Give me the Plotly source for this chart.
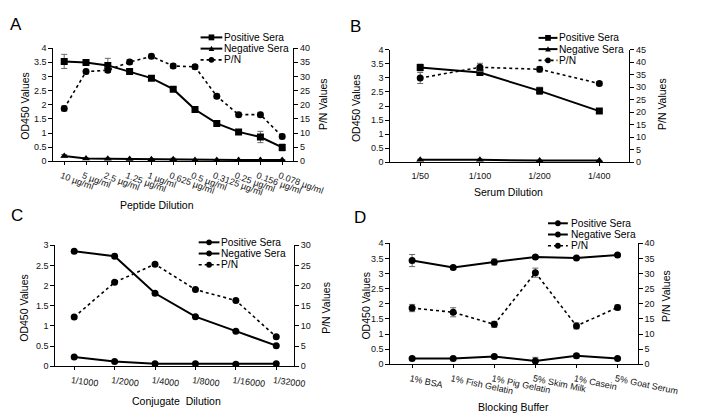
import plotly.graph_objects as go

W, H = 715, 414

# ---------------- Data ----------------
# Panel A
a_cats = ["10 µg/ml", "5 µg/ml", "2.5 µg/ml", "1.25 µg/ml", "1 µg/ml", "0.625 µg/ml",
          "0.5 µg/ml", "0.3125 µg/ml", "0.25 µg/ml", "0.156 µg/ml", "0.078 µg/ml"]
a_pos = [3.53, 3.49, 3.39, 3.17, 2.94, 2.55, 1.83, 1.34, 1.04, 0.86, 0.49]
a_pos_err = [0.25, 0.08, 0.25, 0.10, 0.08, 0.06, 0.08, 0.08, 0.05, 0.20, 0.12]
a_neg = [0.19, 0.10, 0.09, 0.08, 0.07, 0.07, 0.05, 0.05, 0.05, 0.05, 0.05]
a_neg_err = [0.05, 0.02, 0.02, 0.02, 0.02, 0.04, 0.01, 0.01, 0.01, 0.01, 0.01]
a_pn = [18.7, 31.7, 32.2, 35.1, 37.1, 33.7, 33.4, 23.0, 16.5, 16.5, 8.8]
a_pn_err = [0.9, 0.8, 0.8, 0.8, 0.8, 0.8, 0.8, 0.8, 0.8, 0.8, 0.8]

# Panel B
b_cats = ["1/50", "1/100", "1/200", "1/400"]
b_pos = [3.37, 3.19, 2.54, 1.82]
b_pos_err = [0.12, 0.06, 0.13, 0.06]
b_neg = [0.09, 0.09, 0.06, 0.06]
b_neg_err = [0.02, 0.02, 0.01, 0.01]
b_pn = [33.7, 38.0, 37.2, 31.5]
b_pn_err = [2.2, 1.6, 1.1, 0.8]

# Panel C
c_cats = ["1/1000", "1/2000", "1/4000", "1/8000", "1/16000", "1/32000"]
c_pos = [2.85, 2.73, 1.81, 1.23, 0.87, 0.51]
c_neg = [0.23, 0.12, 0.065, 0.065, 0.05, 0.065]
c_pn = [12.2, 20.8, 25.3, 19.0, 16.3, 7.3]

# Panel D
d_cats = ["1% BSA", "1% Fish Gelatin", "1% Pig Gelatin", "5% Skim Milk", "1% Casein", "5% Goat Serum"]
d_pos = [3.43, 3.20, 3.38, 3.55, 3.51, 3.61]
d_pos_err = [0.20, 0.05, 0.10, 0.04, 0.04, 0.04]
d_neg = [0.19, 0.19, 0.26, 0.11, 0.28, 0.19]
d_neg_err = [0.05, 0.04, 0.05, 0.12, 0.07, 0.04]
d_pn = [18.6, 17.2, 13.2, 30.3, 12.7, 18.8]
d_pn_err = [1.2, 1.5, 1.0, 1.5, 1.0, 0.8]

series_names = ["Positive Sera", "Negative Sera", "P/N"]

# ---------------- Helpers ----------------
FONT = "Liberation Sans, Arial, sans-serif"
ERR_COLOR = "#6b6b6b"


def px(x):
    return x / W


def py(y):
    return 1 - y / H


fig = go.Figure()


def err(arr):
    if arr is None:
        return None
    return dict(type="data", array=arr, color=ERR_COLOR, thickness=1, width=3)


def add_panel(k, cats, pos, neg, pn, pos_err, neg_err, pn_err, pos_sym, neg_sym, msize):
    xa = "x" if k == 1 else f"x{k}"
    yl = "y" if k == 1 else f"y{2 * k - 1}"
    yr = f"y{2 * k}"
    fig.add_trace(go.Scatter(x=cats, y=pn, xaxis=xa, yaxis=yr, mode="lines+markers",
                             line=dict(color="black", width=1.6, dash="dot"),
                             marker=dict(symbol="circle", size=msize, color="black"),
                             error_y=err(pn_err), showlegend=False, name=series_names[2]))
    fig.add_trace(go.Scatter(x=cats, y=neg, xaxis=xa, yaxis=yl, mode="lines+markers",
                             line=dict(color="black", width=2),
                             marker=dict(symbol=neg_sym, size=msize, color="black"),
                             error_y=err(neg_err), showlegend=False, name=series_names[1]))
    fig.add_trace(go.Scatter(x=cats, y=pos, xaxis=xa, yaxis=yl, mode="lines+markers",
                             line=dict(color="black", width=2),
                             marker=dict(symbol=pos_sym, size=msize, color="black"),
                             error_y=err(pos_err), showlegend=False, name=series_names[0]))


add_panel(1, a_cats, a_pos, a_neg, a_pn, a_pos_err, a_neg_err, a_pn_err, "square", "triangle-up", 7)
add_panel(2, b_cats, b_pos, b_neg, b_pn, b_pos_err, b_neg_err, b_pn_err, "square", "triangle-up", 7)
add_panel(3, c_cats, c_pos, c_neg, c_pn, None, None, None, "circle", "circle", 7)
add_panel(4, d_cats, d_pos, d_neg, d_pn, d_pos_err, d_neg_err, d_pn_err, "circle", "circle", 7)

# panel geometry in pixels: (left, right, top, bottom), x range, tickangle, y ranges
panels = {
    1: dict(l=48, r=302, t=36, b=152, xr=[-0.5, 10.5], ang=20, shift=-3, yl=[0, 4], yr=[0, 40]),
    2: dict(l=405, r=658, t=37.7, b=153, xr=[-0.5, 3.5], ang=0, shift=0, yl=[0, 4], yr=[0, 45]),
    3: dict(l=50, r=303, t=238, b=362, xr=[-0.47, 5.44], ang=7, shift=-3, yl=[0, 3], yr=[0, 30]),
    4: dict(l=405, r=667, t=236, b=360, xr=[-0.53, 5.49], ang=12, shift=-2, yl=[0, 4], yr=[0, 40]),
}

tickfont = dict(family=FONT, size=9, color="#111")
layout_axes = {}
for k, p in panels.items():
    xn = "xaxis" if k == 1 else f"xaxis{k}"
    yln = "yaxis" if k == 1 else f"yaxis{2 * k - 1}"
    yrn = f"yaxis{2 * k}"
    xref_anchor = "y" if k == 1 else f"y{2 * k - 1}"
    xid = "x" if k == 1 else f"x{k}"
    yl_id = "y" if k == 1 else f"y{2 * k - 1}"
    dom_x = [px(p["l"]), px(p["r"])]
    dom_y = [py(p["b"]), py(p["t"])]
    layout_axes[xn] = dict(domain=dom_x, anchor=xref_anchor, type="category", range=p["xr"],
                           showline=True, linecolor="black", linewidth=1, showgrid=False,
                           zeroline=False, ticks="outside", ticklen=3, tickcolor="black",
                           tickangle=p["ang"], ticklabelshift=p["shift"], ticklabelstandoff=2,
                           tickfont=tickfont)
    layout_axes[yln] = dict(domain=dom_y, anchor=xid, range=p["yl"], dtick=0.5,
                            showline=True, linecolor="black", linewidth=1, showgrid=False,
                            zeroline=False, ticks="outside", ticklen=4, tickcolor="black",
                            tickfont=tickfont)
    layout_axes[yrn] = dict(domain=dom_y, anchor=xid, overlaying=yl_id, side="right",
                            range=p["yr"], dtick=5,
                            showline=True, linecolor="black", linewidth=1, showgrid=False,
                            zeroline=False, ticks="outside", ticklen=4, tickcolor="black",
                            tickfont=tickfont)

annotations = []


def text(x, y, s, size=10.5, angle=0, xanchor="center"):
    annotations.append(dict(x=px(x), y=py(y), xref="paper", yref="paper", text=s,
                            showarrow=False, textangle=angle, xanchor=xanchor, yanchor="middle",
                            borderpad=0,
                            font=dict(family=FONT, size=size, color="black")))


# panel letters
text(8, 12, "A", size=17)
text(368, 14, "B", size=17)
text(10, 208, "C", size=17)
text(373, 210, "D", size=17)

# axis titles
text(18, 95, "OD450 Values", angle=-90)
text(333, 93, "P/N Values", angle=-90)
text(158, 197, "Peptide Dilution")
text(368, 97, "OD450 Values", angle=-90)
text(692, 93, "P/N Values", angle=-90)
text(530, 183, "Serum Dilution")
text(17, 302, "OD450 Values", angle=-90)
text(337, 302, "P/N Values", angle=-90)
text(178, 398, "Conjugate  Dilution")
text(379, 300, "OD450 Values", angle=-90)
text(697, 290, "P/N Values", angle=-90)
text(535, 404, "Blocking Buffer")

# legends (drawn as shapes + text)
shapes = []


def marker_shape(cx, cy, sym, r=3):
    if sym == "circle":
        shapes.append(dict(type="circle", xref="paper", yref="paper",
                           x0=px(cx - r), x1=px(cx + r), y0=py(cy + r), y1=py(cy - r),
                           fillcolor="black", line=dict(color="black", width=0)))
    elif sym == "square":
        shapes.append(dict(type="rect", xref="paper", yref="paper",
                           x0=px(cx - r), x1=px(cx + r), y0=py(cy + r), y1=py(cy - r),
                           fillcolor="black", line=dict(color="black", width=0)))
    else:
        path = (f"M {px(cx - r)} {py(cy + r * 0.8)} L {px(cx + r)} {py(cy + r * 0.8)} "
                f"L {px(cx)} {py(cy - r)} Z")
        shapes.append(dict(type="path", xref="paper", yref="paper", path=path,
                           fillcolor="black", line=dict(color="black", width=0)))


def legend(x0, x1, tx, rows, syms):
    dashes = ["solid", "solid", "dot"]
    for i, (yy, sym) in enumerate(zip(rows, syms)):
        shapes.append(dict(type="line", xref="paper", yref="paper",
                           x0=px(x0), x1=px(x1), y0=py(yy), y1=py(yy),
                           line=dict(color="black", width=2 if i < 2 else 1.6, dash=dashes[i])))
        marker_shape((x0 + x1) / 2, yy, sym)
        text(tx, yy, series_names[i], size=10.2, xanchor="left")


legend(204, 227, 228, [25, 36.5, 48], ["square", "triangle", "circle"])
legend(562, 582, 583, [25.5, 37, 48.5], ["square", "triangle", "circle"])
legend(202, 224, 225, [235, 246.5, 258], ["circle", "circle", "circle"])
legend(572, 593, 595, [215.5, 227, 238.5], ["circle", "circle", "circle"])

fig.update_layout(width=W, height=H, margin=dict(l=0, r=0, t=0, b=0),
                  paper_bgcolor="white", plot_bgcolor="white",
                  showlegend=False, annotations=annotations, shapes=shapes,
                  font=dict(family=FONT), **layout_axes)

fig.write_html("out.html")
